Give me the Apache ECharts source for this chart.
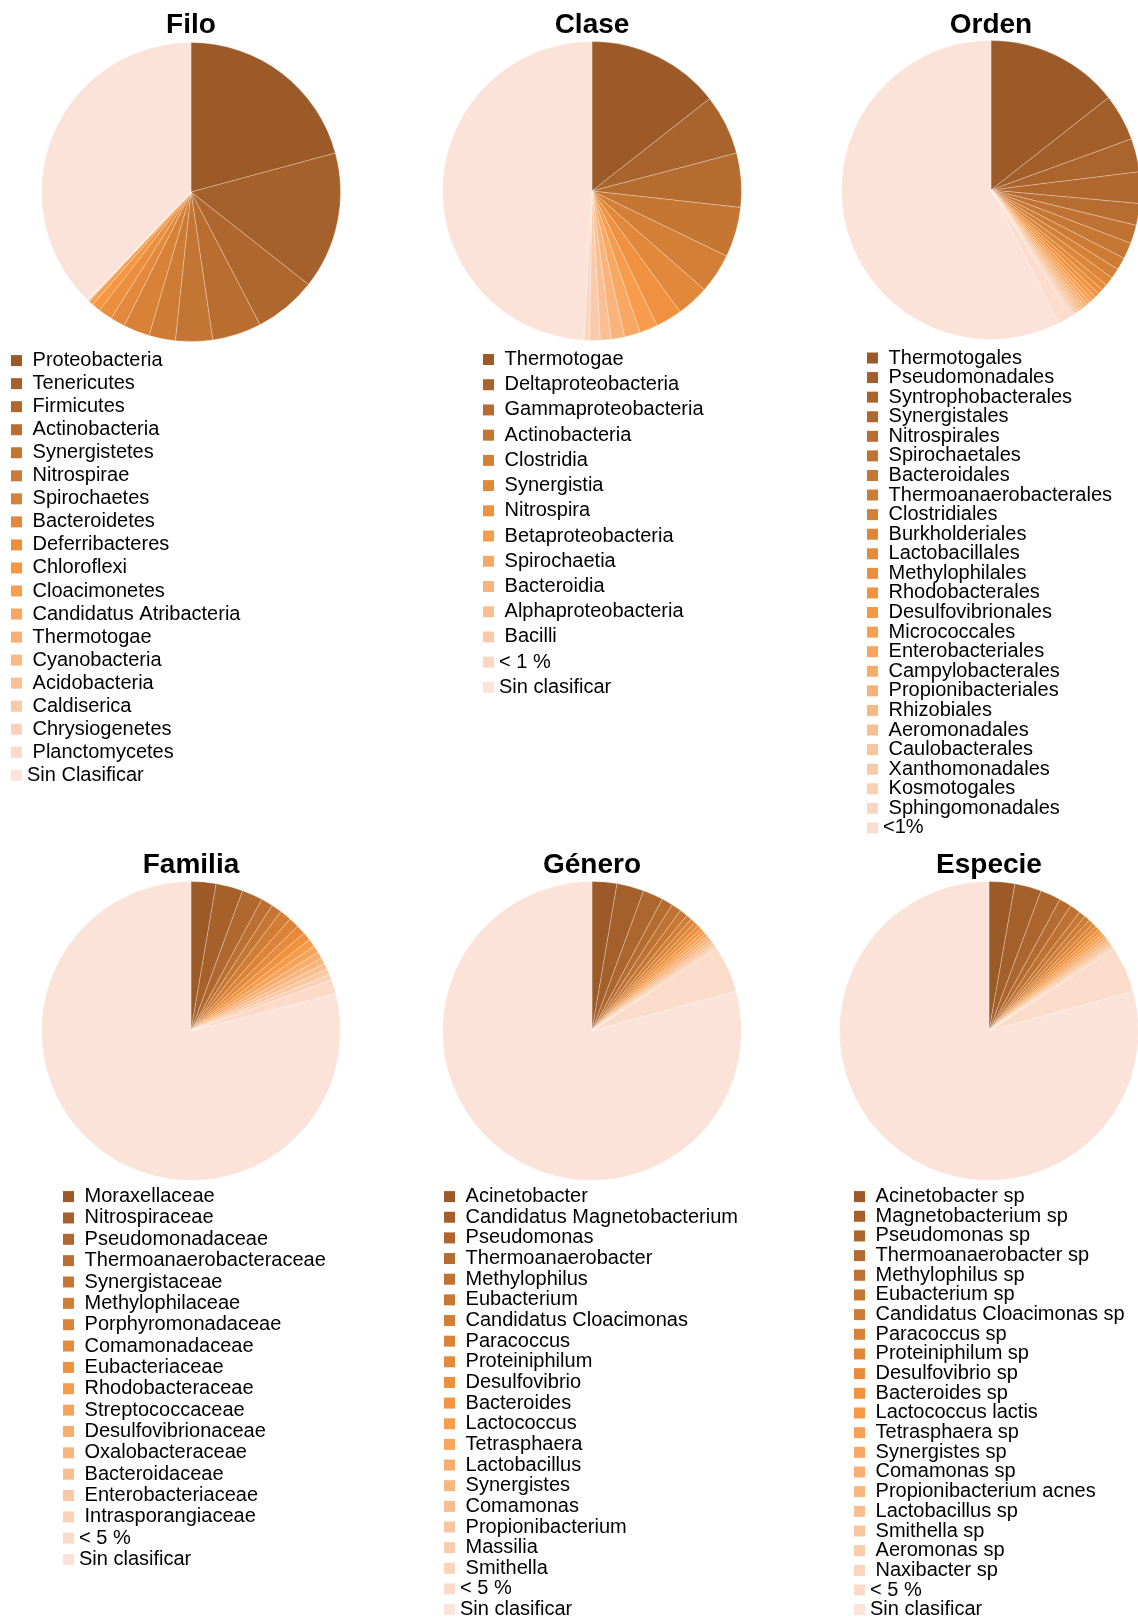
<!DOCTYPE html>
<html>
<head>
<meta charset="utf-8">
<script src="https://cdn.jsdelivr.net/npm/echarts@6/dist/echarts.min.js"></script>
<style>
  html, body { margin: 0; padding: 0; background: #fff; }
  #main { width: 1138px; height: 1619px; }
</style>
</head>
<body>
<div id="main"></div>
<script>
/************* composicion taxonomica **************/

// Filo
var filoNames = [' Proteobacteria', ' Tenericutes', ' Firmicutes', ' Actinobacteria', ' Synergistetes',
    ' Nitrospirae', ' Spirochaetes', ' Bacteroidetes', ' Deferribacteres', ' Chloroflexi', ' Cloacimonetes',
    ' Candidatus Atribacteria', ' Thermotogae', ' Cyanobacteria', ' Acidobacteria', ' Caldiserica',
    ' Chrysiogenetes', ' Planctomycetes', 'Sin Clasificar'];
var filoValues = [20.8, 14.8, 6.75, 5.3, 4.0, 2.85, 2.85, 1.6, 1.5, 0.95, 0.5,
    0.08, 0.06, 0.04, 0.03, 0.015, 0.015, 0.015, 37.8];

// Clase
var claseNames = [' Thermotogae', ' Deltaproteobacteria', ' Gammaproteobacteria', ' Actinobacteria',
    ' Clostridia', ' Synergistia', ' Nitrospira', ' Betaproteobacteria', ' Spirochaetia', ' Bacteroidia',
    ' Alphaproteobacteria', ' Bacilli', '< 1 %', 'Sin clasificar'];
var claseValues = [14.4, 6.5, 5.85, 5.4, 4.3, 3.5, 2.85, 1.97, 1.72, 1.44, 1.17, 1.14, 0.61, 49.1];

// Orden (el ultimo no aparece en la leyenda)
var ordenNames = [' Thermotogales', ' Pseudomonadales', ' Syntrophobacterales', ' Synergistales',
    ' Nitrospirales', ' Spirochaetales', ' Bacteroidales', ' Thermoanaerobacterales', ' Clostridiales',
    ' Burkholderiales', ' Lactobacillales', ' Methylophilales', ' Rhodobacterales', ' Desulfovibrionales',
    ' Micrococcales', ' Enterobacteriales', ' Campylobacterales', ' Propionibacteriales', ' Rhizobiales',
    ' Aeromonadales', ' Caulobacterales', ' Xanthomonadales', ' Kosmotogales', ' Sphingomonadales',
    '<1%', 'Sin clasificar '];
var ordenValues = [14.4, 5.05, 3.6, 3.4, 2.35, 2.0, 1.75, 1.35, 1.1, 0.97, 0.67, 0.56, 0.5, 0.44,
    0.39, 0.36, 0.33, 0.3, 0.28, 0.28, 0.25, 0.25, 0.22, 0.22, 1.47, 57.5];

// Familia
var familiaNames = [' Moraxellaceae', ' Nitrospiraceae', ' Pseudomonadaceae', ' Thermoanaerobacteraceae',
    ' Synergistaceae', ' Methylophilaceae', ' Porphyromonadaceae', ' Comamonadaceae', ' Eubacteriaceae',
    ' Rhodobacteraceae', ' Streptococcaceae', ' Desulfovibrionaceae', ' Oxalobacteraceae', ' Bacteroidaceae',
    ' Enterobacteriaceae', ' Intrasporangiaceae', '< 5 %', 'Sin clasificar'];
var familiaValues = [2.69, 2.92, 2.25, 1.28, 1.14, 1.25, 1.11, 1.0, 0.92, 0.83, 0.78, 0.72, 0.67,
    0.64, 0.64, 0.61, 1.53, 79.02];

// Genero
var generoNames = [' Acinetobacter', ' Candidatus Magnetobacterium', ' Pseudomonas', ' Thermoanaerobacter',
    ' Methylophilus', ' Eubacterium', ' Candidatus Cloacimonas', ' Paracoccus', ' Proteiniphilum',
    ' Desulfovibrio', ' Bacteroides', ' Lactococcus', ' Tetrasphaera', ' Lactobacillus', ' Synergistes',
    ' Comamonas', ' Propionibacterium', ' Massilia', ' Smithella', '< 5 %', 'Sin clasificar'];
var generoValues = [2.68, 2.93, 2.19, 1.22, 1.07, 0.85, 0.61, 0.53, 0.47, 0.42, 0.39, 0.36, 0.33,
    0.31, 0.31, 0.28, 0.28, 0.25, 0.22, 5.0, 79.3];

// Especie
var especieNames = [' Acinetobacter sp', ' Magnetobacterium sp', ' Pseudomonas sp', ' Thermoanaerobacter sp',
    ' Methylophilus sp', ' Eubacterium sp', ' Candidatus Cloacimonas sp', ' Paracoccus sp', ' Proteiniphilum sp',
    ' Desulfovibrio sp', ' Bacteroides sp', ' Lactococcus lactis', ' Tetrasphaera sp', ' Synergistes sp',
    ' Comamonas sp', ' Propionibacterium acnes', ' Lactobacillus sp', ' Smithella sp', ' Aeromonas sp',
    ' Naxibacter sp', '< 5 %', 'Sin clasificar'];
var especieValues = [2.78, 2.88, 2.21, 1.33, 1.17, 0.72, 0.61, 0.53, 0.44, 0.42, 0.36, 0.33, 0.31,
    0.28, 0.28, 0.25, 0.25, 0.22, 0.22, 0.19, 4.93, 79.29];

var FONT = 'Liberation Sans, Arial, sans-serif';

// degradado marron -> naranja -> rosado
function ramp(n) {
    var dark = [155, 90, 40], mid = [246, 150, 64], light = [252, 227, 217];
    var out = [];
    for (var i = 0; i < n; i++) {
        var t = n > 1 ? i / (n - 1) : 0;
        var a, b, s;
        if (t <= 0.5) { a = dark; b = mid; s = t / 0.5; }
        else { a = mid; b = light; s = (t - 0.5) / 0.5; }
        var c = [0, 1, 2].map(function (k) { return Math.round(a[k] + (b[k] - a[k]) * s); });
        out.push('rgb(' + c.join(',') + ')');
    }
    return out;
}

var panels = [
    {title: 'Filo',    names: filoNames,    values: filoValues,    cx: 191, cy: 192,  ty: 10.8,  lx: 11,  ly: 350.6,  step: 23.04, nLegend: 19},
    {title: 'Clase',   names: claseNames,   values: claseValues,   cx: 592, cy: 191,  ty: 10.8,  lx: 483, ly: 349.5,  step: 25.22, nLegend: 14},
    {title: 'Orden',   names: ordenNames,   values: ordenValues,   cx: 991, cy: 190,  ty: 10.8,  lx: 867, ly: 348.0,  step: 19.58, nLegend: 25},
    {title: 'Familia', names: familiaNames, values: familiaValues, cx: 191, cy: 1031, ty: 851.4, lx: 63,  ly: 1186.6, step: 21.35, nLegend: 18},
    {title: 'Género',  names: generoNames,  values: generoValues,  cx: 592, cy: 1031, ty: 851.4, lx: 444, ly: 1186.6, step: 20.65, nLegend: 21},
    {title: 'Especie', names: especieNames, values: especieValues, cx: 989, cy: 1031, ty: 851.4, lx: 854, ly: 1186.6, step: 19.67, nLegend: 22}
];

var ITEM_H = 20; // alto real de cada fila de la leyenda
var titles = [], legends = [], series = [];

panels.forEach(function (p) {
    var colors = ramp(p.names.length);
    titles.push({
        text: p.title,
        left: p.cx,
        top: p.ty,
        textAlign: 'center',
        padding: 0,
        textStyle: {fontFamily: FONT, fontSize: 28, fontWeight: 'bold', color: '#000', lineHeight: 28}
    });
    legends.push({
        orient: 'vertical',
        left: p.lx,
        top: p.ly,
        height: 700,
        padding: 0,
        icon: 'rect',
        itemWidth: 11,
        itemHeight: 11,
        itemGap: p.step - ITEM_H,
        selectedMode: false,
        textStyle: {fontFamily: FONT, fontSize: 20, color: '#000', padding: 0},
        data: p.names.slice(0, p.nLegend).map(function (n, i) {
            return {name: n, itemStyle: {color: colors[i], borderWidth: 0}};
        })
    });
    series.push({
        type: 'pie',
        center: [p.cx, p.cy],
        radius: 149.5,
        startAngle: 90,
        clockwise: true,
        avoidLabelOverlap: false,
        animation: false,
        label: {show: false},
        labelLine: {show: false},
        emphasis: {disabled: true},
        itemStyle: {borderColor: 'rgba(255,255,255,0.45)', borderWidth: 0.6},
        data: p.names.map(function (n, i) {
            return {name: n, value: p.values[i], itemStyle: {color: colors[i]}};
        })
    });
});

var chart = echarts.init(document.getElementById('main'));
chart.setOption({
    backgroundColor: '#fff',
    animation: false,
    title: titles,
    legend: legends,
    series: series
});
</script>
</body>
</html>
